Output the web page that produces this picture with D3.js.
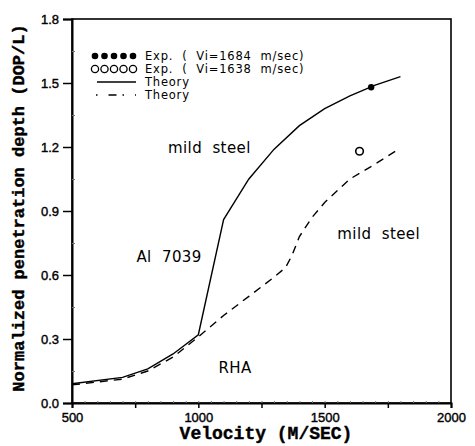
<!DOCTYPE html>
<html>
<head>
<meta charset="utf-8">
<script src="https://cdn.jsdelivr.net/npm/d3@7"></script>
<style>
body { margin: 0; background: #fff; }
svg text { fill: #000; }
</style>
</head>
<body>
<div class="container"></div>
<script>
var W = 475, H = 446;
var LEFT = 72, RIGHT = 451, TOP = 19, BOTTOM = 403;

// solid theory curve (Al 7039 -> mild steel)
var solidV = [500, 700, 800, 900, 1000, 1100, 1200, 1300, 1400, 1500, 1600, 1700, 1800];
var solidD = [0.09, 0.12, 0.16, 0.23, 0.32, 0.86, 1.05, 1.19, 1.30, 1.38, 1.44, 1.49, 1.53];
// dashed theory curve (RHA -> mild steel)
var dashV = [500, 700, 800, 900, 1000, 1100, 1200, 1300, 1345, 1370, 1400, 1450, 1500, 1600, 1700, 1780];
var dashD = [0.085, 0.112, 0.15, 0.215, 0.31, 0.41, 0.50, 0.59, 0.635, 0.69, 0.78, 0.87, 0.94, 1.05, 1.12, 1.18];
// experiments
var expFilled = [[1684, 1.48]];
var expOpen = [[1638, 1.18]];

var xTicks = [500, 1000, 1500, 2000];
var yTicks = [0.0, 0.3, 0.6, 0.9, 1.2, 1.5, 1.8];

var x = d3.scaleLinear().domain([500, 2000]).range([LEFT, RIGHT]);
var y = d3.scaleLinear().domain([0, 1.8]).range([BOTTOM, TOP]);

var svg = d3.select(".container").append("svg").attr("width", W).attr("height", H);

// frame
svg.append("rect")
	.attr("x", LEFT).attr("y", TOP)
	.attr("width", RIGHT - LEFT).attr("height", BOTTOM - TOP)
	.attr("fill", "none").attr("stroke", "#000").attr("stroke-width", 1.6);

// x axis
var xAxis = d3.axisBottom(x).tickValues(d3.range(500, 2001, 250)).tickSize(5)
	.tickFormat(function(d){ return xTicks.indexOf(d) >= 0 ? d : ""; });
var gx = svg.append("g").attr("transform", "translate(0," + BOTTOM + ")").call(xAxis);
gx.select(".domain").attr("stroke-width", 2);
gx.selectAll("line").attr("stroke-width", 1.5);
gx.selectAll("text").attr("font-family", "Liberation Sans").attr("font-size", 13)
	.attr("stroke", "#000").attr("stroke-width", 0.4).attr("dy", "0.85em");

var xMinor = d3.axisBottom(x).tickValues(d3.range(550, 2000, 50)).tickSize(-2).tickFormat("");
svg.append("g").attr("transform", "translate(0," + BOTTOM + ")").call(xMinor)
	.call(function(g){ g.select(".domain").remove(); g.selectAll("line").attr("stroke", "#777"); });

// y axis
var yAxis = d3.axisLeft(y).tickValues(yTicks).tickSize(9).tickPadding(4)
	.tickFormat(d3.format(".1f"));
var gy = svg.append("g").attr("transform", "translate(" + LEFT + ",0)").call(yAxis);
gy.select(".domain").attr("stroke-width", 2);
gy.selectAll("line").attr("stroke-width", 1.5);
gy.selectAll("text").attr("font-family", "Liberation Sans").attr("font-size", 13)
	.attr("stroke", "#000").attr("stroke-width", 0.4);

var yMinor = d3.axisLeft(y).tickValues(d3.range(0.15, 1.8, 0.3)).tickSize(-3).tickFormat("");
svg.append("g").attr("transform", "translate(" + LEFT + ",0)").call(yMinor)
	.call(function(g){ g.select(".domain").remove(); g.selectAll("line").attr("stroke", "#777"); });

// axis titles
svg.append("text")
	.attr("x", 266).attr("y", 439)
	.attr("text-anchor", "middle")
	.attr("font-family", "Liberation Mono").attr("font-weight", "bold").attr("font-size", 18)
	.attr("stroke", "#000").attr("stroke-width", 0.4)
	.text("Velocity (M/SEC)");

svg.append("text")
	.attr("transform", "translate(24,208) rotate(-90)")
	.attr("text-anchor", "middle")
	.attr("font-family", "Liberation Mono").attr("font-weight", "bold").attr("font-size", 17)
	.attr("stroke", "#000").attr("stroke-width", 0.4)
	.text("Normalized penetration depth (DOP/L)");

// curves
var line = d3.line().x(function(d){ return x(d[0]); }).y(function(d){ return y(d[1]); });
var solid = solidV.map(function(v, i){ return [v, solidD[i]]; });
var dashed = dashV.map(function(v, i){ return [v, dashD[i]]; });

svg.append("path").datum(solid).attr("d", line)
	.attr("fill", "none").attr("stroke", "#000").attr("stroke-width", 1.4);
svg.append("path").datum(dashed).attr("d", line)
	.attr("fill", "none").attr("stroke", "#000").attr("stroke-width", 1.4)
	.attr("stroke-dasharray", "8,6");

// experiment points
svg.selectAll(".fill").data(expFilled).enter().append("circle")
	.attr("cx", function(d){ return x(d[0]); }).attr("cy", function(d){ return y(d[1]); })
	.attr("r", 3.2).attr("fill", "#000");
svg.selectAll(".open").data(expOpen).enter().append("circle")
	.attr("cx", function(d){ return x(d[0]); }).attr("cy", function(d){ return y(d[1]); })
	.attr("r", 3.8).attr("fill", "none").attr("stroke", "#000").attr("stroke-width", 1.6);

// legend
var legend = svg.append("g").attr("font-family", "DejaVu Sans").attr("font-size", 11.5)
	.attr("letter-spacing", 0.8);
var rows = [60, 73, 86, 99];
d3.range(5).forEach(function(i){
	legend.append("circle").attr("cx", 95 + i * 9.5).attr("cy", rows[0] - 4).attr("r", 3.3).attr("fill", "#000");
	legend.append("circle").attr("cx", 95 + i * 9.5).attr("cy", rows[1] - 4).attr("r", 3.6)
		.attr("fill", "none").attr("stroke", "#000").attr("stroke-width", 1.3);
});
legend.append("line").attr("x1", 97).attr("x2", 136).attr("y1", rows[2] - 4).attr("y2", rows[2] - 4)
	.attr("stroke", "#000").attr("stroke-width", 1.4);
legend.append("line").attr("x1", 96).attr("x2", 136).attr("y1", rows[3] - 4).attr("y2", rows[3] - 4)
	.attr("stroke", "#000").attr("stroke-width", 1.4).attr("stroke-dasharray", "1.5,11,8,6");
var labels = ["Exp.  (  Vi=1684  m/sec)", "Exp.  (  Vi=1638  m/sec)", "Theory", "Theory"];
labels.forEach(function(t, i){
	legend.append("text").attr("x", 145).attr("y", rows[i])
		.style("white-space", "pre").text(t);
});

// annotations
var notes = [
	{t: "mild  steel", v: 880, d: 1.17},
	{t: "mild  steel", v: 1550, d: 0.77},
	{t: "Al  7039", v: 755, d: 0.66},
	{t: "RHA", v: 1080, d: 0.14}
];
svg.selectAll(".note").data(notes).enter().append("text")
	.attr("x", function(d){ return x(d.v); }).attr("y", function(d){ return y(d.d); })
	.attr("font-family", "DejaVu Sans").attr("font-size", 15).attr("letter-spacing", 0.4)
	.style("white-space", "pre")
	.text(function(d){ return d.t; });
</script>
</body>
</html>
